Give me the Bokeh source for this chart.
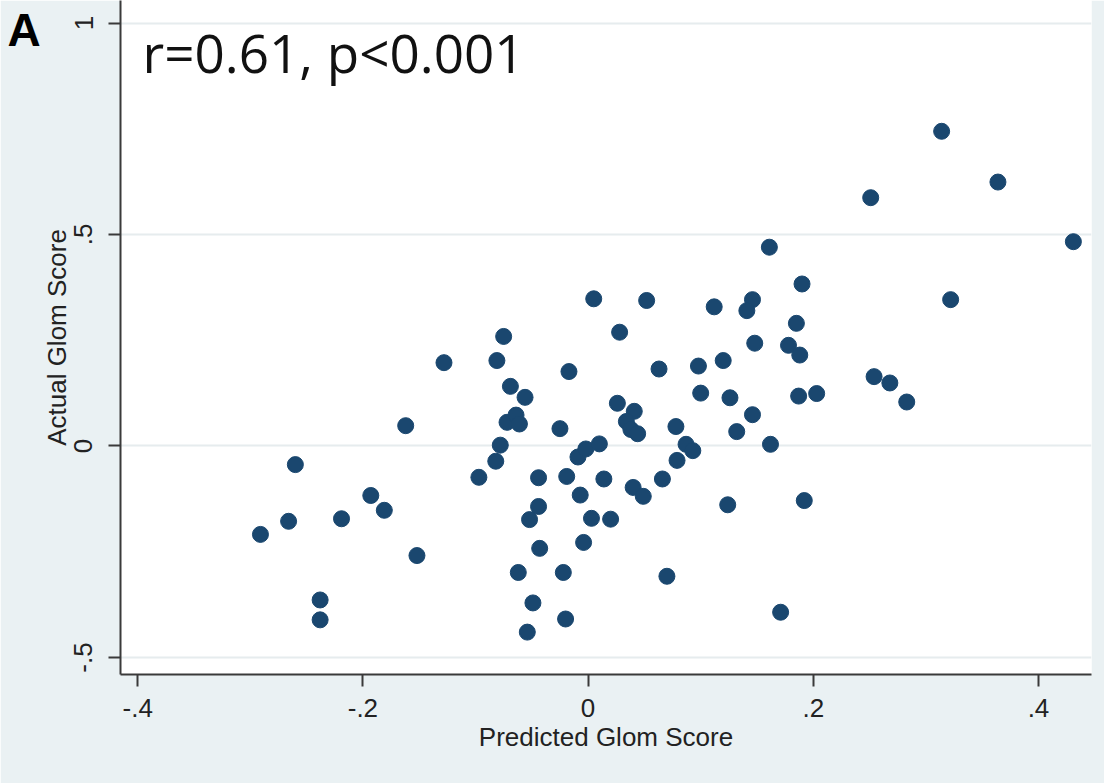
from bokeh.plotting import figure
from bokeh.models import Range1d, FixedTicker, Label, ColumnDataSource
from bokeh.embed import file_html
from bokeh.resources import INLINE

predicted = [-0.291, -0.266, -0.260, -0.238, -0.238, -0.219, -0.193, -0.181, -0.162, -0.152,
             -0.128, -0.097, -0.082, -0.078, -0.081, -0.075, -0.069, -0.056, -0.072, -0.064,
             -0.061, -0.062, -0.054, -0.052, -0.049, -0.044, -0.044, -0.043, -0.025, -0.022,
             -0.020, -0.019, -0.017, -0.009, -0.002, 0.010, -0.007, -0.004, 0.003, 0.014,
             0.020, 0.005, 0.028, 0.026, 0.041, 0.034, 0.038, 0.044, 0.040, 0.049,
             0.052, 0.063, 0.066, 0.070, 0.078, 0.087, 0.093, 0.079, 0.098, 0.100,
             0.112, 0.120, 0.124, 0.126, 0.132, 0.146, 0.146, 0.141, 0.148, 0.161,
             0.162, 0.171, 0.178, 0.185, 0.188, 0.187, 0.190, 0.192, 0.203, 0.251,
             0.254, 0.268, 0.283, 0.314, 0.322, 0.364, 0.431]
actual = [-0.209, -0.178, -0.044, -0.364, -0.411, -0.172, -0.117, -0.152, 0.048, -0.259,
          0.197, -0.074, -0.036, 0.002, 0.202, 0.259, 0.141, 0.115, 0.056, 0.073,
          0.052, -0.299, -0.440, -0.174, -0.371, -0.075, -0.143, -0.242, 0.041, -0.299,
          -0.409, -0.072, 0.176, -0.026, -0.007, 0.005, -0.116, -0.228, -0.171, -0.078,
          -0.173, 0.348, 0.269, 0.101, 0.082, 0.058, 0.039, 0.029, -0.098, -0.119,
          0.344, 0.182, -0.078, -0.308, 0.046, 0.004, -0.011, -0.034, 0.189, 0.125,
          0.329, 0.202, -0.139, 0.114, 0.034, 0.074, 0.346, 0.320, 0.243, 0.470,
          0.004, -0.393, 0.238, 0.290, 0.215, 0.118, 0.383, -0.129, 0.124, 0.587,
          0.164, 0.149, 0.104, 0.744, 0.346, 0.624, 0.483]

x_ticks = [-0.4, -0.2, 0, 0.2, 0.4]
x_tick_labels = ["-.4", "-.2", "0", ".2", ".4"]
y_ticks = [-0.5, 0, 0.5, 1]
y_tick_labels = ["-.5", "0", ".5", "1"]

x_title = "Predicted Glom Score"
y_title = "Actual Glom Score"
stat_text = "r=0.61, p<0.001"
panel_letter = "A"

BG = "#eaf1f3"
NAVY = "#1a476f"
AXIS = "#3a3a3a"

p = figure(width=1104, height=783, output_backend="svg", toolbar_location=None,
           x_range=Range1d(-0.4153, 0.4471), y_range=Range1d(-0.5402, 1.0532),
           min_border_left=120, min_border_right=13, min_border_top=0, min_border_bottom=109)

p.background_fill_color = "white"
p.border_fill_color = BG
p.outline_line_color = None

src = ColumnDataSource(dict(x=predicted, y=actual))
p.scatter("x", "y", source=src, size=16, fill_color=NAVY, line_color=NAVY, line_width=1)

# axes
p.xaxis.ticker = FixedTicker(ticks=x_ticks)
p.xaxis.major_label_overrides = {t: l for t, l in zip(x_ticks, x_tick_labels)}
p.yaxis.ticker = FixedTicker(ticks=y_ticks)
p.yaxis.major_label_overrides = {t: l for t, l in zip(y_ticks, y_tick_labels)}
p.yaxis.major_label_orientation = "vertical"

for ax in (p.xaxis, p.yaxis):
    ax.axis_line_color = AXIS
    ax.axis_line_width = 2
    ax.major_tick_line_color = AXIS
    ax.major_tick_line_width = 2
    ax.major_tick_out = 12
    ax.major_tick_in = 0
    ax.minor_tick_line_color = None
    ax.major_label_text_font = "Liberation Sans"
    ax.major_label_text_font_size = "26px"
    ax.major_label_text_color = "#222222"
    ax.axis_label_text_font = "Liberation Sans"
    ax.axis_label_text_font_size = "26px"
    ax.axis_label_text_font_style = "normal"
    ax.axis_label_text_color = "#222222"

p.xaxis.axis_label = x_title
p.yaxis.axis_label = y_title
p.xaxis.major_label_standoff = 12
p.yaxis.major_label_standoff = 16
p.xaxis.axis_label_standoff = 2
p.yaxis.axis_label_standoff = 0

p.xgrid.visible = False
p.ygrid.grid_line_color = "#e6ecee"
p.ygrid.grid_line_width = 2

p.add_layout(Label(x=22, y=622, x_units="screen", y_units="screen", text=stat_text,
                   text_font="Open Sans", text_font_size="53px", text_color="#111111",
                   text_baseline="alphabetic"))
p.add_layout(Label(x=2, y=645, x_units="screen", y_units="screen", text=panel_letter,
                   text_font="Liberation Sans", text_font_style="bold",
                   text_font_size="46px", text_color="black", text_baseline="alphabetic"),
             "left")

open("out.html", "w").write(file_html(p, INLINE))
